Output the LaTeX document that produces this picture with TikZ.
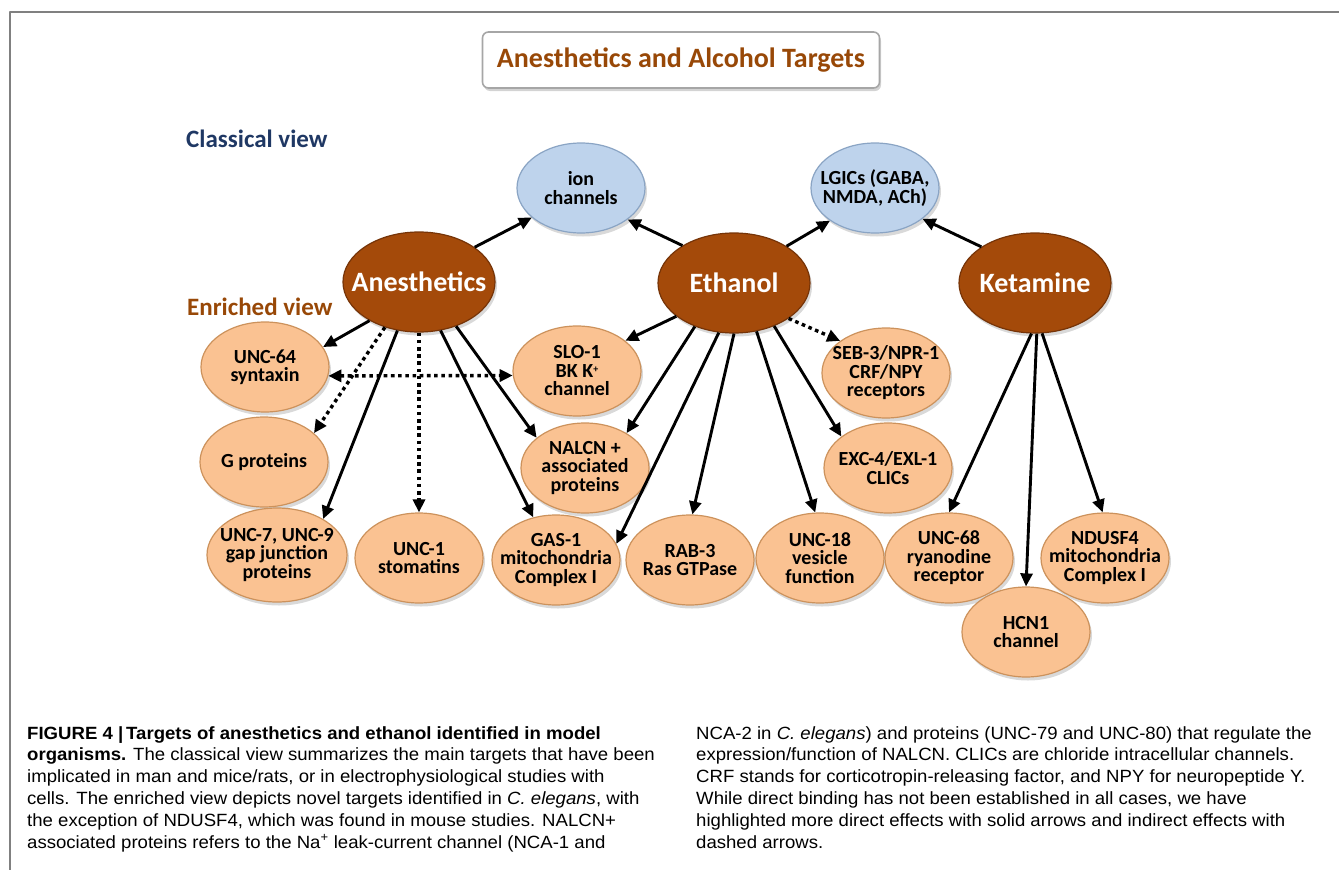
\documentclass[tikz,border=0pt]{standalone}
\usepackage{fontspec}
\setmainfont[FakeStretch=1.05]{Liberation Sans}
\newfontfamily\diagfont{Carlito}
\usetikzlibrary{arrows.meta,shapes.geometric,shadows}
\definecolor{targetbrown}{RGB}{152,72,7}
\definecolor{classicblue}{RGB}{31,56,100}
\definecolor{drugbrown}{RGB}{164,74,10}
\definecolor{drugrim}{RGB}{118,52,8}
\definecolor{enrichorange}{RGB}{250,194,146}
\definecolor{enrichrim}{RGB}{204,146,92}
\definecolor{classicfill}{RGB}{190,211,236}
\definecolor{classicrim}{RGB}{138,164,196}
\definecolor{framegray}{RGB}{128,128,128}
\newcommand{\smallplus}{\raisebox{5pt}{\fontsize{10}{10}\selectfont +}}

\begin{document}
\begin{tikzpicture}[x=1pt,y=-1pt,>={Triangle[length=13pt,width=12pt]},
    line join=round,
    target/.style={ellipse,inner xsep=-20pt,inner ysep=0pt,align=center,
      minimum width=128pt,minimum height=90pt,line width=1.2pt,
      font=\diagfont\bfseries\fontsize{20}{18.5}\selectfont,
      drop shadow={shadow xshift=2pt,shadow yshift=-3.5pt,opacity=.3}},
    enriched/.style={target,fill=enrichorange,draw=enrichrim},
    classic/.style={target,fill=classicfill,draw=classicrim},
    drug/.style={target,fill=drugbrown,draw=drugrim,text=white,
      minimum width=152pt,minimum height=100pt,
      font=\diagfont\bfseries\fontsize{28}{30}\selectfont},
    direct/.style={line width=2.9pt},
    indirect/.style={line width=3.4pt,dash pattern=on 3.6pt off 3.6pt}]
  \useasboundingbox (0,0) rectangle (1339,870);
  % Frame and heading.
  \draw[framegray,line width=2pt] (10,870) -- (10,12) -- (1339,12);
  \node[draw=framegray!70,line width=1.6pt,rounded corners=6pt,fill=white,
        minimum width=397pt,minimum height=56pt,text=targetbrown,
        font=\diagfont\bfseries\fontsize{28}{30}\selectfont,
        drop shadow={shadow xshift=1.5pt,shadow yshift=-3pt,opacity=.35}]
       (title) at (681,60) {Anesthetics and Alcohol Targets};
  \node[anchor=west,inner sep=0pt,text=classicblue,
        font=\diagfont\bfseries\fontsize{25}{26}\selectfont]
       (classlbl) at (186,139) {Classical view};
  \node[anchor=west,inner sep=0pt,text=targetbrown,
        font=\diagfont\bfseries\fontsize{25}{26}\selectfont]
       (richlbl) at (187,307) {Enriched view};

  % Classical targets and the three drugs.
  \node[classic] (ion) at (581,188) {ion\\channels};
  \node[classic] (lgic) at (875,188) {LGICs (GABA,\\NMDA, ACh)};
  \node[drug] (anes) at (419,282) {Anesthetics};
  \node[drug] (eth) at (734,283) {Ethanol};
  \node[drug] (ket) at (1035,283) {Ketamine};

  % Enriched targets.
  \node[enriched] (unc64) at (265,367) {UNC-64\\syntaxin};
  \node[enriched] (slo) at (577,371) {SLO-1\\BK K\smallplus\\channel};
  \node[enriched] (seb) at (886,373) {SEB-3/NPR-1\\CRF/NPY\\receptors};
  \node[enriched] (gprot) at (264,462) {G proteins};
  \node[enriched] (nalcn) at (585,468) {NALCN +\\associated\\proteins};
  \node[enriched] (exc) at (888,468) {EXC-4/EXL-1\\CLICs};
  \node[enriched,minimum width=140pt,minimum height=94pt]
       (unc7) at (277,555) {UNC-7, UNC-9\\gap junction\\proteins};
  \node[enriched] (unc1) at (419,558) {UNC-1\\stomatins};
  \node[enriched] (gas1) at (556,560) {GAS-1\\mitochondria\\Complex I};
  \node[enriched] (rab3) at (690,560) {RAB-3\\Ras GTPase};
  \node[enriched] (unc18) at (820,558) {UNC-18\\vesicle\\function};
  \node[enriched] (unc68) at (949,558) {UNC-68\\ryanodine\\receptor};
  \node[enriched] (ndusf) at (1105,558) {NDUSF4\\mitochondria\\Complex I};
  \node[enriched] (hcn) at (1026,632) {HCN1\\channel};

  % Solid = direct, dotted = indirect.
  \draw[->,direct] (anes.32) -- (ion.211);
  \draw[->,direct] (eth.144) -- (ion.326);
  \draw[->,direct] (eth.35) -- (lgic.216);
  \draw[->,direct] (ket.146) -- (lgic.327);
  \draw[->,direct] (anes.218) -- (unc64.19);
  \draw[->,indirect] (anes.233) -- (gprot.30);
  \draw[->,direct] (anes.246) -- (unc7.38);
  \draw[->,indirect] (anes.270) -- (unc1.north);
  \draw[->,direct] (anes.294) -- (gas1.118);
  \draw[->,direct] (anes.310) -- (nalcn.148);
  \draw[<->,indirect] (unc64.-8) -- (slo.184);
  \draw[->,direct] (eth.210) -- (slo.32);
  \draw[->,indirect] (eth.327) -- (seb.145);
  \draw[->,direct] (eth.228) -- (nalcn.40);
  \draw[->,direct] (eth.253) -- (gas1.15);
  \draw[->,direct] (eth.270) -- (rab3.87);
  \draw[->,direct] (eth.295) -- (unc18.96);
  \draw[->,direct] (eth.313) -- (exc.146);
  \draw[->,direct] (ket.266) -- (unc68.north);
  \draw[->,direct] (ket.272) -- (hcn.north);
  \draw[->,direct] (ket.278) -- (ndusf.93);

  % Caption in two columns.
  \node[anchor=north west,inner sep=0pt,align=left,
        font=\fontsize{17.7}{21.8}\selectfont] (capleft) at (27,726)
   {\textbf{FIGURE 4 |\,Targets of anesthetics and ethanol identified in model}\\
    \textbf{organisms.} The classical view summarizes the main targets that have been\\
    implicated in man and mice/rats, or in electrophysiological studies with\\
    cells. The enriched view depicts novel targets identified in \textit{C. elegans}, with\\
    the exception of NDUSF4, which was found in mouse studies. NALCN+\\
    associated proteins refers to the Na\textsuperscript{+} leak-current channel (NCA-1 and};
  \node[anchor=north west,inner sep=0pt,align=left,
        font=\fontsize{17.7}{21.8}\selectfont] (capright) at (696,726)
   {NCA-2 in \textit{C. elegans}) and proteins (UNC-79 and UNC-80) that regulate the\\
    expression/function of NALCN. CLICs are chloride intracellular channels.\\
    CRF stands for corticotropin-releasing factor, and NPY for neuropeptide Y.\\
    While direct binding has not been established in all cases, we have\\
    highlighted more direct effects with solid arrows and indirect effects with\\
    dashed arrows.};
\end{tikzpicture}
\end{document}
